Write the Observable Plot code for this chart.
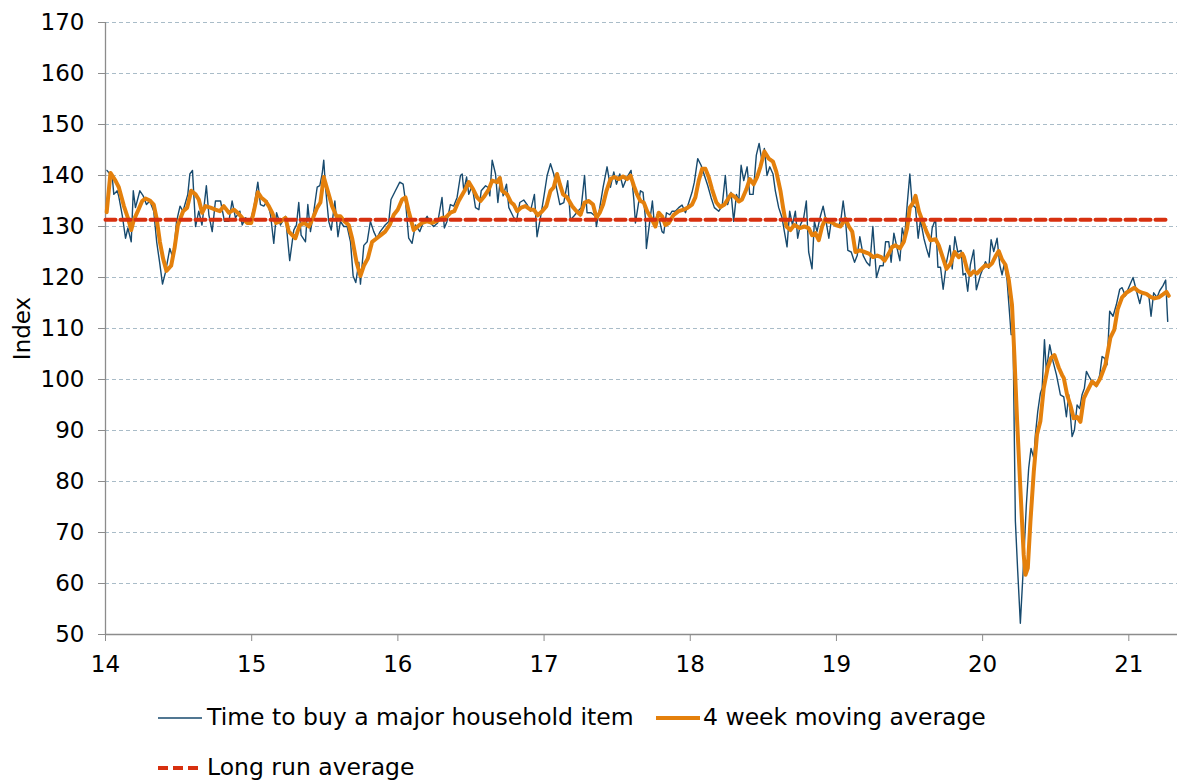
<!DOCTYPE html>
<html>
<head>
<meta charset="utf-8">
<script src="https://cdn.jsdelivr.net/npm/d3@7"></script>
<script src="https://cdn.jsdelivr.net/npm/@observablehq/plot@0.6"></script>
<style>
  html, body { margin: 0; padding: 0; background: #fff; }
  body { width: 1184px; height: 781px; position: relative; overflow: hidden; font-family: Verdana, "DejaVu Sans", sans-serif; }
  #chart { position: absolute; left: 0; top: 0; }
  .leg { position: absolute; font-size: 23.5px; color: #000; white-space: nowrap; line-height: 1; }
  .sw { position: absolute; }
</style>
</head>
<body>
<div id="chart"></div>
<svg class="sw" style="left:158px;top:708px" width="44" height="20"><line x1="0" x2="44" y1="10" y2="10" stroke="#174a6e" stroke-width="1.5"/></svg>
<div class="leg" style="left:207px;top:706px">Time to buy a major household item</div>
<svg class="sw" style="left:656px;top:708px" width="44" height="20"><line x1="0" x2="44" y1="10" y2="10" stroke="#e4800c" stroke-width="4"/></svg>
<div class="leg" style="left:703px;top:706px">4 week moving average</div>
<svg class="sw" style="left:158px;top:758px" width="44" height="20"><line x1="0" x2="44" y1="10" y2="10" stroke="#d7300f" stroke-width="4" stroke-dasharray="10,5"/></svg>
<div class="leg" style="left:207px;top:756px">Long run average</div>
<script>
// Weekly index: time to buy a major household item (decimal year, two-digit year labels)
const rawYears = [14.01,14.046,14.057,14.08,14.09,14.114,14.137,14.153,14.176,14.19,14.205,14.235,14.258,14.28,14.303,14.33,14.35,14.37,14.39,14.41,14.44,14.463,14.486,14.51,14.53,14.563,14.577,14.595,14.616,14.638,14.66,14.69,14.707,14.73,14.752,14.787,14.814,14.844,14.866,14.889,14.919,14.935,14.958,14.99,15.015,15.042,15.06,15.083,15.106,15.129,15.151,15.17,
15.197,15.231,15.26,15.288,15.306,15.322,15.338,15.368,15.384,15.402,15.425,15.448,15.466,15.482,15.493,15.505,15.527,15.544,15.569,15.59,15.607,15.63,15.653,15.676,15.694,15.712,15.733,15.744,15.767,15.79,15.812,15.835,15.856,15.879,15.913,15.938,15.953,15.983,16.013,16.036,16.052,16.074,16.097,16.12,16.15,16.172,16.2,16.223,16.245,16.272,16.302,16.318,16.336,16.359,16.382,16.405,
16.428,16.44,16.451,16.47,16.485,16.508,16.531,16.554,16.57,16.6,16.615,16.629,16.645,16.668,16.684,16.702,16.72,16.743,16.759,16.788,16.811,16.834,16.861,16.884,16.907,16.934,16.952,16.975,16.998,17.021,17.044,17.066,17.089,17.108,17.135,17.162,17.18,17.203,17.231,17.254,17.277,17.294,17.322,17.351,17.358,17.381,17.404,17.431,17.454,17.477,17.495,17.518,17.54,17.568,17.595,17.614,17.625,17.643,
17.659,17.677,17.693,17.7,17.723,17.741,17.755,17.773,17.791,17.807,17.819,17.837,17.86,17.876,17.898,17.921,17.944,17.967,17.99,18.012,18.028,18.051,18.074,18.097,18.12,18.142,18.165,18.195,18.218,18.24,18.256,18.279,18.297,18.316,18.332,18.348,18.366,18.389,18.407,18.43,18.452,18.471,18.491,18.507,18.525,18.544,18.566,18.582,18.605,18.628,18.644,18.662,18.68,18.699,18.719,18.735,18.753,18.776,18.794,18.81,18.833,18.849,18.867,18.89,
18.909,18.925,18.948,18.964,18.987,19.016,19.032,19.046,19.062,19.078,19.101,19.124,19.142,19.16,19.183,19.206,19.228,19.249,19.274,19.297,19.32,19.336,19.358,19.374,19.393,19.415,19.434,19.45,19.466,19.484,19.502,19.518,19.541,19.559,19.575,19.598,19.616,19.634,19.655,19.678,19.694,19.712,19.73,19.753,19.776,19.792,19.81,19.83,19.853,
19.866,19.882,19.898,19.916,19.939,19.957,19.985,20.003,20.019,20.042,20.058,20.076,20.099,20.117,20.133,20.149,20.167,20.195,20.208,20.224,20.24,20.258,20.277,20.299,20.315,20.331,20.35,20.361,20.377,20.395,20.407,20.423,20.436,20.459,20.482,20.505,20.521,
20.532,20.555,20.573,20.589,20.612,20.628,20.646,20.664,20.68,20.696,20.71,20.733,20.755,20.778,20.801,20.817,20.833,20.851,20.869,20.892,20.915,20.938,20.954,20.977,20.999,21.029,21.052,21.075,21.091,21.113,21.136,21.152,21.17,21.193,21.211,21.234,21.252,21.266];
const rawValues = [141,139.7,136.3,137,136,132.3,127.7,129.7,127,137,133.7,137,136,134.3,135,133,127,123,118.7,121,125.7,123.7,131,134,133,136.3,140.3,141,130,133,130.3,138,132.3,129,135,135,131,131,135,131.7,133,130.3,131.7,131,133.7,138.7,134.3,134,135,132.3,126.7,132.7,
130.3,132,123.3,129.3,130.3,134.7,128.3,127,134.3,129,133,137.7,138,140.3,143,137.7,131,129.3,135,128,131,130,130,127,120.3,119,123,118.7,126.3,127,131,129,127.7,129,130.3,131,135.3,137,138.7,138.3,135,127.7,126.7,130.3,129,130.7,132,130.7,130,130.7,135.7,129.7,131,134.3,134,135.7,
140,140.3,137,139.7,136.3,138,133.7,133.3,137,138,137.7,136,143,140.3,134.7,139.7,136,138.3,133.7,132,131,134.7,135.2,134.3,133,136.3,128,131.7,135.7,140,142.3,140.3,137,134.3,134.7,139,131.3,132,133,133.7,140,132.7,132.7,132,130,133.7,137.7,141.7,137.7,140.7,138.3,140.3,137.7,139.7,141,135.3,130.7,134,
137,136.7,131.7,125.7,131,135,130.3,132.3,131,129,128.7,132.7,132.3,133,133,133.7,134.2,132.7,134.7,136.7,138.7,143.3,142,140,138,135.7,133.7,133,134,140,134.3,136.7,131,136.3,135,142,139,141.7,136.3,136.3,144,146.3,142.7,145.3,140,141.7,140.3,137,133.7,131.7,129,126,133,130.3,133,127.7,130.3,131.7,135,125,121.7,131,129,132,
134,131.7,127.7,131,130.3,130,131.7,135,131.3,125.3,125,123,124.3,128,124.3,123,122.3,130,120,122.3,122.3,127,127,123,128.7,125.7,123.3,129.7,127.7,134.3,140.3,134.3,133.7,127.7,131.3,127.7,125.7,124,129.7,131.5,122,122,117.7,123,126.3,121.7,128,125,125.3,
120.5,120.8,117.3,122.5,125.4,117.6,120.5,121.8,123.1,121.8,127.4,125.1,127.7,122.5,120.5,122.8,119.5,108.8,108.8,72.2,62.4,52.2,62.4,75.4,82.6,86.5,84.6,89.2,93.7,97.3,98.3,107.8,101.6,106.8,103.5,100.9,98.6,
97,96.6,92.7,97,88.8,90.1,95,94.3,97,98.3,101.6,100.3,99.3,98.6,100.9,104.5,104.2,102.9,113.4,112.4,114.7,117.7,118,116.4,118,120,117.4,114.9,117,116.8,116.7,112.4,117,116.1,117.4,118.4,119.5,111.4];

// 4 week moving average
const maYears = [14.008,14.034,14.068,14.091,14.126,14.153,14.176,14.194,14.221,14.251,14.274,14.303,14.33,14.349,14.372,14.394,14.417,14.449,14.472,14.495,14.531,14.559,14.586,14.616,14.638,14.661,14.684,14.718,14.752,14.782,14.809,14.844,14.878,14.905,14.935,14.969,14.997,15.02,15.042,15.065,15.094,15.117,15.14,15.167,
15.197,15.231,15.254,15.299,15.329,15.361,15.391,15.42,15.448,15.47,15.493,15.52,15.55,15.58,15.607,15.635,15.664,15.687,15.717,15.744,15.767,15.794,15.824,15.856,15.883,15.913,15.944,15.972,15.999,16.029,16.052,16.074,16.108,16.135,16.165,16.2,16.234,16.268,16.302,16.325,16.359,16.386,16.416,
16.456,16.485,16.515,16.542,16.565,16.593,16.622,16.645,16.679,16.697,16.713,16.747,16.775,16.793,16.816,16.843,16.872,16.907,16.93,16.957,16.987,17.016,17.044,17.066,17.089,17.108,17.13,17.158,17.192,17.222,17.249,17.277,17.306,17.335,17.358,17.381,17.404,17.427,17.454,17.481,17.511,17.54,17.568,17.591,17.614,17.636,
17.659,17.682,17.705,17.739,17.762,17.784,17.807,17.83,17.853,17.887,17.921,17.955,17.983,18.012,18.035,18.058,18.081,18.104,18.126,18.149,18.179,18.206,18.234,18.256,18.279,18.309,18.332,18.354,18.384,18.407,18.434,18.457,18.48,18.507,18.537,18.566,18.589,18.617,18.635,18.658,18.685,18.712,18.749,18.781,18.81,18.833,18.856,18.879,18.902,18.924,
18.937,18.964,18.994,19.028,19.062,19.085,19.108,19.13,19.16,19.192,19.222,19.251,19.279,19.306,19.329,19.358,19.381,19.404,19.434,19.461,19.484,19.502,19.525,19.541,19.564,19.586,19.616,19.643,19.678,19.7,19.73,19.753,19.78,19.808,19.837,19.86,
19.871,19.894,19.916,19.939,19.962,19.985,20.019,20.042,20.065,20.087,20.11,20.133,20.156,20.179,20.201,20.217,20.236,20.258,20.281,20.293,20.309,20.327,20.35,20.372,20.395,20.418,20.445,20.468,20.491,20.521,
20.543,20.555,20.578,20.6,20.623,20.646,20.669,20.692,20.714,20.749,20.778,20.806,20.84,20.874,20.901,20.924,20.954,20.983,21.011,21.038,21.061,21.091,21.12,21.148,21.175,21.205,21.234,21.257,21.273];
const maValues = [132.8,140.5,139,137.7,134,131.7,129.3,131.3,133,135,135.5,135.1,134.3,131.7,127,123.7,121.3,122.3,125.7,130.3,133,133.7,137,136.3,135.3,132.7,134,133.7,133.3,133,134,132.7,133.3,132.7,131.7,130.7,130.7,133.7,136.7,135.7,135,134,132.7,130.7,
131,131.7,129,127.7,130.3,130.7,130,131.7,133.7,134.7,139.7,137,134,132,132,131,130.3,127.7,123,120.3,122.3,123.7,127,127.7,128.3,129,130.3,132.3,133.3,135.3,135.7,133,129.3,130,130.7,131,130.7,131.1,131.7,131.7,132.7,133,135,
137,138.7,137.3,135.7,135,136,137.3,139,138.7,139.5,137,136.3,134.7,134.3,133,133.7,134,133.3,133.3,132.2,133,134,137,137.7,140.3,138.3,136.3,135.7,134,133,132.3,134.7,135,134.3,131.7,132.7,134.3,137,139.3,139.7,139.3,139.8,139.3,140,138,136.3,
135,134.7,133,131.3,130,132.7,132,130.3,130.7,132.3,133,133.3,133.7,134.3,135.7,139,141.3,141.3,139.7,137.3,134.7,133.8,134.3,135.3,136.3,135.7,134.9,135.3,137.3,139.3,138.3,139.7,141.7,144.7,143.3,142.7,140.7,137,133.7,130,129.3,130.3,129.7,130,129.7,128.3,128.7,127.3,130,131.5,
131,130.9,130.3,130,131.5,130,129,125,125.3,125,124.7,124,124.3,124,123.3,124.7,126,126.3,125.7,127,129.7,133.7,134.7,136,133,131.3,129,127.3,127.5,126.3,123.7,121.7,122.7,125,124,124.7,
124.1,121.5,120.5,121.2,120.8,121.5,122.4,122.2,122.8,124.1,125.2,123.5,122.5,119.5,114.6,104.8,91.8,78.7,65.6,61.7,63,72.2,82,89.2,91.8,98.3,102.3,104.2,104.8,102.3,
100.9,100.3,97,95,92.4,92.7,91.7,96.3,97.6,99.6,98.9,100.3,102.9,108.2,109.8,113.8,116.1,117,117.5,118,117.4,117,116.8,116.2,115.9,116.1,116.7,117.2,116.4];

// Long run average
const longRunYears = [14, 21.27];
const longRunValue = 131.3;

const yTicks = [50,60,70,80,90,100,110,120,130,140,150,160,170];
const xTicks = [14,15,16,17,18,19,20,21];
const xTickLabels = ["14","15","16","17","18","19","20","21"];

const raw = rawYears.map((x, i) => ({x, y: rawValues[i]}));
const ma = maYears.map((x, i) => ({x, y: maValues[i]}));
const lr = longRunYears.map(x => ({x, y: longRunValue}));

const chart = Plot.plot({
  width: 1184,
  height: 690,
  marginTop: 22,
  marginBottom: 56,
  marginLeft: 105,
  marginRight: 7,
  style: {fontFamily: 'Verdana, "DejaVu Sans", sans-serif', fontSize: "23px", color: "#000", background: "#fff"},
  x: {domain: [14, 21.333]},
  y: {domain: [50, 170]},
  marks: [
    Plot.gridY(yTicks.filter(v => v > 50), {stroke: "#a9bcc8", strokeOpacity: 1, strokeDasharray: "4,3", strokeWidth: 1}),
    Plot.ruleX([14], {stroke: "#8c8c8c", strokeWidth: 1.3}),
    Plot.ruleY([50], {stroke: "#8c8c8c", strokeWidth: 1.3}),
    Plot.axisY(yTicks, {tickSize: 7, tickPadding: 14, stroke: "#8c8c8c", fill: "#000", label: null}),
    Plot.axisX(xTicks, {tickSize: 7, tickPadding: 14, stroke: "#8c8c8c", fill: "#000", label: null, tickFormat: (d) => xTickLabels[xTicks.indexOf(d)]}),
    Plot.text(["Index"], {frameAnchor: "left", textAnchor: "middle", dx: -83, rotate: -90, fontSize: 23, fill: "#000"}),
    Plot.line(raw, {x: "x", y: "y", stroke: "#174a6e", strokeWidth: 1.4, curve: "linear"}),
    Plot.line(ma, {x: "x", y: "y", stroke: "#e4800c", strokeWidth: 4, strokeLinejoin: "round"}),
    Plot.line(lr, {x: "x", y: "y", stroke: "#d7300f", strokeWidth: 4, strokeDasharray: "10,5"})
  ]
});
document.getElementById("chart").appendChild(chart);
</script>
</body>
</html>
